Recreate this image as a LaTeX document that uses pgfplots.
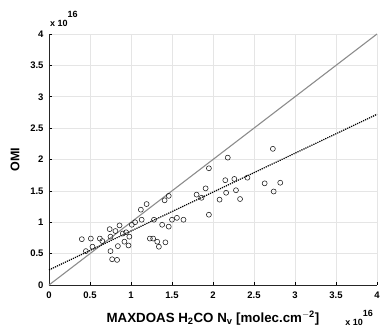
\documentclass[border=0pt]{standalone}
\usepackage{pgfplots}
\pgfplotsset{compat=1.18}
\usepackage{fontspec}
\setmainfont{Liberation Sans}
\setsansfont{Liberation Sans}
\begin{document}
\begin{tikzpicture}
\begin{axis}[
  scale only axis,
  width=328pt, height=251pt,
  xmin=0, xmax=4, ymin=0, ymax=4,
  xtick={0,0.5,...,4}, ytick={0,0.5,...,4},
  xticklabels={0,0.5,1,1.5,2,2.5,3,3.5,4},
  yticklabels={0,0.5,1,1.5,2,2.5,3,3.5,4},
  ticklabel style={font=\fontsize{9.5}{11}\selectfont\bfseries},
  xticklabel style={yshift=-3pt},
  yticklabel style={xshift=-2pt},
  /pgf/number format/assume math mode=true,
  grid=major,
  major grid style={draw=black!10, line width=0.6pt},
  axis x line*=bottom, axis y line*=left,
  axis line style={black!85, line width=0.7pt},
  tick style={black, line width=0.5pt},
  major tick length=3pt,
  tick align=inside,
  xlabel={\textbf{MAXDOAS H$_{\mathbf 2}$CO N$_{\mathbf v}$ [molec.cm$^{\mathbf{-2}}$]}},
  ylabel={\textbf{OMI}},
  every axis x label/.style={at={(rel axis cs:0.5,0)}, yshift=-33pt, anchor=center, font=\fontsize{13.3}{15}\selectfont},
  every axis y label/.style={at={(rel axis cs:0,0.5)}, xshift=-34pt, anchor=center, rotate=90, font=\fontsize{12.5}{15}\selectfont},
  clip=false,
]
\addplot[black!45, line width=1.1pt, forget plot] coordinates {(0,0) (4,4)};
\addplot[black, densely dotted, line width=1.2pt, forget plot] coordinates {(0,0.24) (4,2.72)};
\addplot[only marks, mark=o, mark size=2.5pt, mark options={black!90, line width=0.55pt}] coordinates {
(0.40,0.73) (0.51,0.74) (0.45,0.54) (0.53,0.61) (0.62,0.74) (0.65,0.70)
(0.74,0.89) (0.75,0.77) (0.75,0.54) (0.77,0.41) (0.83,0.40) (0.84,0.62)
(0.81,0.86) (0.86,0.95) (0.90,0.82) (0.92,0.69) (0.94,0.84) (0.97,0.63)
(0.98,0.77) (1.01,0.96) (1.05,1.00) (1.12,1.20) (1.13,1.04) (1.19,1.29)
(1.23,0.74) (1.27,0.74) (1.28,1.04) (1.32,0.69) (1.34,0.61) (1.38,0.96)
(1.41,1.35) (1.46,1.42) (1.42,0.68) (1.50,1.04) (1.56,1.07) (1.64,1.04)
(1.46,0.93) (1.80,1.44) (1.86,1.39) (1.91,1.54) (1.95,1.86) (1.95,1.12)
(2.08,1.36) (2.15,1.67) (2.16,1.47) (2.18,2.03) (2.26,1.69) (2.28,1.51)
(2.33,1.37) (2.42,1.71) (2.63,1.62) (2.73,2.17) (2.74,1.49) (2.82,1.63)
};
\node[anchor=base west, font=\fontsize{9}{10}\selectfont\bfseries, inner sep=0pt] at (rel axis cs:0,1) [yshift=7pt, xshift=1pt] {x 10\raisebox{9pt}{16}};
\node[anchor=base east, font=\fontsize{9}{10}\selectfont\bfseries, inner sep=0pt] at (rel axis cs:1,0) [yshift=-41pt, xshift=-4pt] {x 10\raisebox{9pt}{16}};
\coordinate (bl) at ([xshift=-49pt, yshift=-48pt]rel axis cs:0,0);
\coordinate (tr) at ([xshift=8pt, yshift=34pt]rel axis cs:1,1);
\end{axis}
\pgfresetboundingbox
\useasboundingbox (bl) rectangle (tr);
\end{tikzpicture}
\end{document}
